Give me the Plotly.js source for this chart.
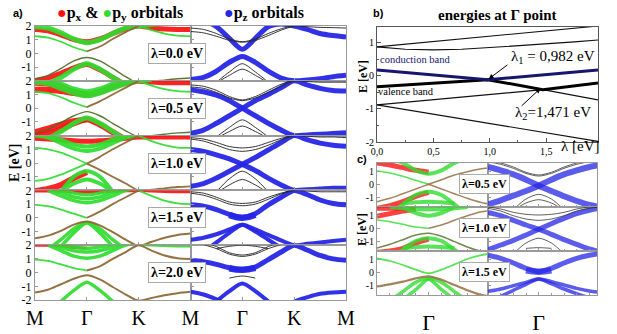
<!DOCTYPE html>
<html><head><meta charset="utf-8">
<script src="https://cdn.plot.ly/plotly-3.0.1.min.js"></script>
<style>html,body{margin:0;padding:0;background:#fff}#plot{width:617px;height:334px}</style>
</head><body><div id="plot"></div>
<script>
// ---------- k-path samples (M=0, Γ=1, K=2, M=3) ----------
const kA = [0,0.25,0.5,0.75,1,1.25,1.5,1.75,2,2.25,2.5,2.75,3];
const kTicks = [0,1,2,3];
const kLabelsL = ['M','Γ','K','M'];
const kLabelsR = ['','Γ','K','M'];
const lambdaLabels = ['λ=0.0 eV','λ=0.5 eV','λ=1.0 eV','λ=1.5 eV','λ=2.0 eV'];

// ---------- λ = 0.0 ----------
const a0_red  = [1.75,1.65,1.35,1.0,0.85,1.05,1.45,1.8,2.0,1.85,1.78,1.75,1.75];
const a0_grnT = [1.95,1.85,1.5,1.05,0.78,1.0,1.45,1.85,2.0,2.1,2.2,2.3,2.3];
const a0_grn  = [1.25,1.15,0.85,0.45,0.15,null,null,null,2.0,1.7,1.45,1.3,1.25];
const a0_brn  = [null,null,null,null,0.15,0.5,1.05,1.55,2.0,null,null,null,null];
const a0_low  = [-1.85,-1.6,-1.1,-0.55,-0.3,-0.55,-1.1,-1.7,-2.2,-2.05,-1.95,-1.85,-1.8];
const a0_grnH = [-2.4,-2.2,-1.75,-1.15,-0.75,-1.15,-1.75,-2.3,null,null,null,null,null];
const a0_redH = [-2.0,-1.8,-1.45,-1.05,-0.82,-1.2,-1.75,-2.3,null,null,null,null,null];
const a0_t1   = [1.85,1.75,1.45,1.05,0.85,1.05,1.45,1.8,2.0,1.95,1.9,1.88,1.85];
const a0_t2   = [1.6,1.5,1.25,0.95,0.82,0.95,1.3,1.7,2.0,2.2,null,null,null];
const a0_bU   = [2.6,2.4,1.95,1.1,0.3,1.1,1.95,2.15,2.0,1.75,1.45,1.3,1.2];
const a0_bL   = [-1.9,-1.75,-1.3,-0.65,-0.22,-0.65,-1.3,-1.8,-2.0,-1.95,-1.85,-1.7,-1.6];
const a0_tL1  = [null,null,-2.1,-1.35,-0.75,-1.35,-2.1,null,null,null,null,null,null];
const a0_tL2  = [null,null,-2.15,-1.6,-1.15,-1.6,-2.15,null,null,null,null,null,null];

// ---------- λ = 0.5 ----------
const a1_red1 = [1.85,1.8,1.55,1.2,1.0,1.2,1.55,1.85,2.0,1.95,1.9,1.9,1.9];
const a1_red2 = [1.35,1.35,1.25,1.1,1.0,null,null,null,null,null,null,null,null];
const a1_grT1 = [2.1,2.0,1.75,1.4,1.2,1.4,1.75,2.0,2.1,2.2,null,null,null];
const a1_grT2 = [1.9,1.8,1.45,1.1,0.9,1.1,1.45,1.8,2.0,2.1,null,null,null];
const a1_grn  = [1.2,1.1,0.8,0.4,0.08,null,null,null,2.0,1.65,1.4,1.25,1.2];
const a1_brn  = [null,null,null,null,0.08,0.5,1.0,1.5,2.0,null,null,null,null];
const a1_low  = [-1.8,-1.55,-1.05,-0.55,-0.25,-0.55,-1.1,-1.65,-2.1,-2.0,-1.9,-1.8,-1.75];
const a1_grnH = [-2.4,-2.2,-1.7,-1.1,-0.72,-1.1,-1.7,-2.3,null,null,null,null,null];
const a1_redH = [-2.0,-1.85,-1.55,-1.1,-0.8,-1.2,-1.75,-2.3,null,null,null,null,null];
const a1_redH2= [-1.75,-1.5,-1.2,-0.95,-0.8,null,null,null,null,null,null,null,null];
const a1_t1   = [1.7,1.6,1.3,0.85,0.6,0.85,1.3,1.75,2.0,1.95,1.9,1.9,1.9];
const a1_t2   = [1.55,1.45,1.15,0.75,0.55,0.75,1.15,1.6,2.0,2.2,null,null,null];
const a1_bX1  = [1.35,1.2,0.95,0.55,0.0,-0.55,-1.1,-1.6,-2.0,-1.95,-1.9,-1.85,-1.8];
const a1_bX2  = [-1.85,-1.6,-1.1,-0.55,0.0,0.55,1.0,1.5,2.0,1.7,1.45,1.3,1.25];
const a1_tL1  = [null,null,-2.1,-1.4,-0.85,-1.4,-2.1,null,null,null,null,null,null];
const a1_tL2  = [null,null,-2.2,-1.7,-1.3,-1.7,-2.2,null,null,null,null,null,null];

// ---------- λ = 1.0 ----------
const a2_red  = [1.8,1.75,1.7,1.62,1.58,1.62,1.7,1.8,1.9,1.9,1.9,1.9,1.9];
const a2_grT1 = [2.1,2.0,1.7,1.35,1.2,1.35,1.7,2.0,2.1,null,null,null,null];
const a2_grT2 = [2.0,1.85,1.45,1.05,0.88,1.05,1.45,1.85,2.0,null,null,null,null];
const a2_grn  = [1.1,1.0,0.75,0.38,-0.05,null,null,null,2.0,1.6,1.3,1.12,1.1];
const a2_brn  = [null,null,null,null,-0.05,0.45,1.0,1.5,2.0,null,null,null,null];
const a2_grnL = [-1.3,-1.15,-0.85,-0.45,-0.05,null,null,null,null,null,null,null,null];
const a2_brnL = [null,null,null,null,-0.05,-0.5,-1.0,-1.5,-2.0,-1.95,-1.85,-1.75,-1.7];
const a2_grH1 = [null,null,-2.1,-1.0,-0.6,-1.0,-2.1,null,null,null,null,null,null];
const a2_grH2 = [null,null,-2.1,-1.5,-1.2,-1.5,-2.1,null,null,null,null,null,null];
const a2_redH = [-2.05,-1.9,-1.6,-1.1,-0.65,null,null,null,null,null,null,null,null];
const a2_t1   = [1.85,1.75,1.5,1.2,1.1,1.2,1.5,1.8,2.0,1.95,1.9,1.9,1.85];
const a2_t2   = [1.75,1.6,1.3,0.98,0.85,0.98,1.3,1.7,2.0,2.2,null,null,null];
const a2_bX1  = [0.98,0.85,0.6,0.3,-0.1,-0.55,-1.1,-1.6,-2.0,-1.95,-1.9,-1.85,-1.85];
const a2_bX2  = [-1.7,-1.5,-1.1,-0.6,-0.1,0.4,0.95,1.5,2.0,1.7,1.45,1.3,1.22];
const a2_tL1  = [null,null,-2.1,-1.15,-0.6,-1.15,-2.1,null,null,null,null,null,null];
const a2_tL2  = [null,null,-2.2,-1.6,-1.2,-1.6,-2.2,null,null,null,null,null,null];

// ---------- λ = 1.5 ----------
const a3_red  = [1.95,1.95,1.93,1.9,1.88,1.9,1.93,1.97,2.0,1.95,1.92,1.9,1.9];
const a3_grT1 = [null,2.3,2.05,1.8,1.68,1.8,2.05,2.3,null,null,null,null,null];
const a3_grT2 = [null,2.15,1.85,1.52,1.39,1.52,1.85,2.15,null,null,null,null,null];
const a3_grT3 = [null,2.0,1.6,1.25,1.1,1.25,1.6,2.0,2.2,null,null,null,null];
const a3_grn  = [0.95,0.85,0.6,0.3,0.0,null,null,null,2.0,1.6,1.25,1.05,1.0];
const a3_brn  = [null,null,null,null,0.0,0.45,1.0,1.5,2.0,null,null,null,null];
const a3_low  = [-1.5,-1.3,-0.95,-0.5,-0.27,-0.55,-1.05,-1.6,-2.05,-1.75,-1.45,-1.25,-1.15];
const a3_gA   = [null,null,-2.1,-1.1,-0.37,-0.8,-1.6,-2.3,null,null,null,null,null];
const a3_gB   = [null,-2.3,-1.6,-0.8,-0.37,-1.1,-2.1,null,null,null,null,null,null];
const a3_t1   = [1.9,1.8,1.5,1.15,1.05,1.15,1.5,1.8,2.0,1.95,1.9,1.9,1.9];
const a3_t2   = [1.8,1.65,1.35,1.0,0.88,1.0,1.35,1.75,2.0,2.2,null,null,null];
const a3_bU   = [0.95,0.85,0.6,0.25,0.0,0.3,0.95,1.5,2.0,1.7,1.3,1.05,0.95];
const a3_bBlob= [null,null,null,0.2,0.0,0.22,null,null,null,null,null,null,null];
const a3_bA   = [-1.6,-1.45,-1.2,-0.85,-0.5,-1.0,-1.6,-2.2,null,null,null,null,null];
const a3_bB   = [null,-2.5,-1.8,-1.1,-0.5,-0.85,-1.25,-1.65,-2.0,-1.9,-1.8,-1.7,-1.6];

// ---------- λ = 2.0 ----------
const a4_red  = [2.0,2.0,1.95,1.85,1.78,null,null,null,null,null,null,null,null];
const a4_grT1 = [null,2.3,2.05,1.87,1.78,1.87,2.05,2.3,null,null,null,null,null];
const a4_grT2 = [null,2.15,1.85,1.6,1.5,1.6,1.85,2.15,null,null,null,null,null];
const a4_grT3 = [null,2.0,1.6,1.2,1.05,1.2,1.6,2.0,2.2,null,null,null,null];
const a4_grn  = [0.95,0.85,0.6,0.32,0.15,null,null,null,2.0,1.97,1.93,1.9,1.9];
const a4_brn  = [null,null,null,null,0.15,0.45,1.0,1.5,2.0,1.6,1.25,1.05,1.0];
const a4_low  = [-1.45,-1.25,-0.85,-0.45,-0.2,-0.5,-1.05,-1.6,-2.05,-1.85,-1.65,-1.5,-1.4];
const a4_grnH = [null,null,-2.1,-1.3,-0.7,-1.3,-2.1,null,null,null,null,null,null];
const a4_t1   = [null,2.2,1.9,1.45,1.28,1.45,1.9,2.2,null,null,null,null,null];
const a4_t2   = [null,2.05,1.75,1.35,1.18,1.35,1.75,2.05,null,null,null,null,null];
const a4_t3   = [null,null,1.75,1.92,2.0,1.92,1.75,null,null,null,null,null,null];
const a4_bU   = [0.9,0.8,0.6,0.35,0.2,0.4,0.95,1.5,2.0,1.65,1.25,1.0,0.9];
const a4_bBlob= [null,null,null,0.32,0.2,0.34,null,null,null,null,null,null,null];
const a4_tS   = [null,null,null,-0.4,-0.25,-0.4,null,null,null,null,null,null,null];
const a4_bL   = [null,null,-2.1,-1.35,-0.8,-1.35,-2.1,null,null,null,null,null,null];
const a4_bS   = [-1.4,-1.6,-1.95,-2.4,null,null,null,null,-2.1,-1.8,-1.55,-1.45,-1.4];

// ---------- panel b: energies at Γ vs λ ----------
const bUp1X = [0,1.96],                    bUp1Y = [0.87,1.5];
const bUp2X = [0,0.25,0.5,0.75,1,1.25,1.5,1.75,1.96], bUp2Y = [0.87,0.80,0.78,0.80,0.85,0.90,0.96,1.02,1.08];
const bCondX = [0,0.982,1.96],             bCondY = [0.17,-0.12,0.17];
const bValX = [0,0.982,1.471,1.96],        bValY = [-0.33,-0.12,-0.42,-0.22];
const bThinX = [0,1.471,1.96],             bThinY = [-0.88,-0.42,-0.73];
const bLowX = [0,1.96],                    bLowY = [-0.88,-1.98];
const bTicks = [0,0.5,1,1.5], bTickText = ['0,0','0,5','1,0','1,5'];

// ---------- panel c (zoom near Γ) ----------
const kC = [0,0.25,0.5,0.75,1,1.25,1.5,1.75,2,2.2];
const c1L_red  = [1.6,1.45,1.25,1.05,0.9,null,null,null,null,null];
const c1L_grnU = [2.0,1.9,1.6,1.05,0.8,1.05,1.6,1.9,2.0,2.0];
const c1L_grnA = [1.0,0.85,0.6,0.3,0.0,null,null,null,null,null];
const c1L_brnA = [null,null,null,null,0.0,-0.35,-0.7,-1.05,-1.35,-1.5];
const c1L_brnB = [-1.3,-1.05,-0.7,-0.35,0.0,0.35,0.7,0.95,1.15,1.25];
const c1L_grnH = [null,-2.3,-1.5,-0.8,-0.55,-0.8,-1.5,-2.3,null,null];
const c1L_grnF = [null,null,-1.45,-1.35,-1.3,-1.35,-1.45,null,null,null];
const c1L_redH = [-1.8,-1.6,-1.3,-0.9,-0.6,null,null,null,null,null];
const c1R_t1 = [1.8,1.6,1.3,0.9,0.7,0.9,1.3,1.6,1.8,1.9];
const c1R_t2 = [1.7,1.5,1.2,0.82,0.62,0.82,1.2,1.5,1.7,1.8];
const c1R_bA = [1.3,1.05,0.75,0.35,-0.1,-0.5,-0.9,-1.25,-1.55,-1.7];
const c1R_bB = [-1.5,-1.2,-0.85,-0.5,-0.1,0.35,0.75,1.05,1.3,1.45];
const c1R_tL1 = [null,null,-1.9,-1.1,-0.75,-1.1,-1.9,null,null,null];
const c1R_tL2 = [null,null,-1.95,-1.4,-1.15,-1.4,-1.95,null,null,null];

const c2L_red1 = [0.9,1.1,1.3,1.45,null,null,null,null,null,null];
const c2L_red2 = [1.5,1.5,1.52,1.55,null,null,null,null,null,null];
const c2L_grnA = [null,1.6,1.5,1.45,1.42,1.45,1.5,1.6,null,null];
const c2L_grnU = [null,null,1.6,1.15,0.95,1.15,1.6,null,null,null];
const c2L_thU_g = [0.62,0.5,0.3,0.1,0.0,null,null,null,null,null];
const c2L_thU_b = [null,null,null,null,0.0,0.25,0.6,0.95,1.23,1.35];
const c2L_thL = [-1.48,-1.2,-0.85,-0.5,-0.37,-0.6,-1.0,-1.4,-1.7,-1.8];
const c2L_grnH = [null,-2.3,-1.6,-0.95,-0.74,-0.95,-1.6,-2.3,null,null];
const c2L_grnF = [null,null,-1.5,-1.4,-1.36,-1.4,-1.5,null,null,null];
const c2L_redH = [-1.8,-1.7,-1.5,-1.1,-0.8,null,null,null,null,null];
const c2R_t1 = [1.6,1.45,1.2,1.05,1.0,1.05,1.2,1.45,1.6,1.7];
const c2R_t2 = [1.5,1.3,0.95,0.7,0.6,0.7,0.95,1.3,1.5,1.6];
const c2R_bA = [1.2,0.95,0.6,0.25,-0.07,-0.45,-0.85,-1.2,-1.55,-1.75];
const c2R_bB = [-1.6,-1.25,-0.9,-0.5,-0.07,0.35,0.75,1.1,1.36,1.5];
const c2R_tL = [null,null,-1.9,-1.1,-0.74,-1.1,-1.9,null,null,null];
const c2R_tF = [null,null,null,-1.5,-1.45,-1.5,null,null,null,null];

const c3L_thU = [1.04,0.85,0.55,0.2,-0.07,0.2,0.6,1.0,1.28,1.4];
const c3L_thL = [-1.06,-0.9,-0.7,-0.45,-0.3,-0.55,-0.95,-1.35,-1.68,-1.8];
const c3L_gA = [null,null,-2.05,-1.3,-0.5,-0.75,-1.45,-2.1,null,null];
const c3L_gB = [null,-2.1,-1.45,-0.75,-0.5,-1.3,-2.05,null,null,null];
const c3R_bU = [1.28,1.05,0.7,0.3,0.05,0.3,0.7,1.05,1.28,1.4];
const c3R_blob = [null,null,null,0.15,0.05,0.15,null,null,null,null];
const c3R_bA = [-1.43,-1.25,-1.0,-0.75,-0.5,-0.85,-1.25,-1.6,-1.9,-2.0];
const c3R_bB = [-2.2,-1.8,-1.35,-0.9,-0.5,-0.7,-0.95,-1.2,-1.4,-1.5];
const cLabels = ['λ=0.5 eV','λ=1.0 eV','λ=1.5 eV'];

// ---------- styling ----------
const RED='#ff1010', GRN='#2fdc2f', BRN='#8c6430', BLUE='#2626e6', THIN='#2a2a2a', OLV='#4f6a24', NAVY='#16166e';
const SERIF='Liberation Serif, Times New Roman, serif';
const W=617, H=334;
const px=x=>x/W, py=y=>1-y/H;

const traces=[];
const layout={width:W,height:H,margin:{l:0,r:0,t:0,b:0},paper_bgcolor:'#fff',plot_bgcolor:'rgba(0,0,0,0)',showlegend:false,annotations:[],font:{family:SERIF,color:'#000'}};
let axN=0;
function addAxes(x0,x1,y0,y1,xo,yo){
  axN++; const s=axN===1?'':String(axN);
  const base={showgrid:false,zeroline:false,showline:true,mirror:true,linecolor:'#9a9a9a',linewidth:1,ticks:'inside',ticklen:3,tickcolor:'#9a9a9a',fixedrange:true,tickfont:{family:SERIF,size:12,color:'#000'}};
  layout['xaxis'+s]=Object.assign({},base,{domain:[px(x0),px(x1)],anchor:'y'+s},xo);
  layout['yaxis'+s]=Object.assign({},base,{domain:[py(y1),py(y0)],anchor:'x'+s},yo);
  return s;
}
function band(s,k,v,color,w,op,sm){
  traces.push({type:'scatter',mode:'lines',x:k,y:v,xaxis:'x'+s,yaxis:'y'+s,
    line:{color:color,width:w,shape:'spline',smoothing:sm||0.8},opacity:op||1,hoverinfo:'skip',connectgaps:false});
}
function lin(s,k,v,color,w){
  traces.push({type:'scatter',mode:'lines',x:k,y:v,xaxis:'x'+s,yaxis:'y'+s,line:{color:color,width:w},hoverinfo:'skip'});
}
const A=layout.annotations;
function note(o){A.push(Object.assign({showarrow:false,xanchor:'center',yanchor:'middle'},o));}

// ---------- panel a ----------
const rowsL=[
 [[a0_red,RED,5],[a0_redH,RED,5],[a0_grnT,GRN,5],[a0_grnH,GRN,5],[a0_grn,GRN,1.8],[a0_brn,BRN,1.8],[a0_low,OLV,1.4]],
 [[a1_red1,RED,6],[a1_red2,RED,6],[a1_redH,RED,6],[a1_redH2,RED,6],[a1_grT1,GRN,5],[a1_grT2,GRN,5],[a1_grnH,GRN,5],[a1_grn,GRN,1.8],[a1_brn,BRN,1.8],[a1_low,OLV,1.4]],
 [[a2_red,RED,5],[a2_redH,RED,6],[a2_grT1,GRN,4],[a2_grT2,GRN,4],[a2_grH1,GRN,4],[a2_grH2,GRN,4],[a2_grn,GRN,1.8],[a2_brn,BRN,1.8],[a2_grnL,GRN,1.8],[a2_brnL,BRN,1.8]],
 [[a3_red,RED,3],[a3_grT1,GRN,3.5],[a3_grT2,GRN,3.5],[a3_grT3,GRN,3.5],[a3_gA,GRN,3.5],[a3_gB,GRN,3.5],[a3_grn,GRN,1.8],[a3_brn,BRN,1.8],[a3_low,BRN,2]],
 [[a4_red,RED,3],[a4_grT1,GRN,3.5],[a4_grT2,GRN,3.5],[a4_grT3,GRN,3.5],[a4_grnH,GRN,3.5],[a4_grn,GRN,1.8],[a4_brn,BRN,2],[a4_low,BRN,2]]
];
const rowsR=[
 [[a0_bU,BLUE,5],[a0_bL,BLUE,5],[a0_t1,THIN,1],[a0_t2,THIN,1],[a0_tL1,THIN,1],[a0_tL2,THIN,1]],
 [[a1_bX1,BLUE,5],[a1_bX2,BLUE,5],[a1_t1,THIN,1],[a1_t2,THIN,1],[a1_tL1,THIN,1],[a1_tL2,THIN,1]],
 [[a2_bX1,BLUE,5],[a2_bX2,BLUE,5],[a2_t1,THIN,1],[a2_t2,THIN,1],[a2_tL1,THIN,1],[a2_tL2,THIN,1]],
 [[a3_bU,BLUE,5],[a3_bBlob,BLUE,6.5,1.3],[a3_bA,BLUE,4],[a3_bB,BLUE,4],[a3_t1,THIN,1],[a3_t2,THIN,1]],
 [[a4_bU,BLUE,5],[a4_bBlob,BLUE,6.5,1.3],[a4_bL,BLUE,4],[a4_bS,BLUE,4],[a4_t1,THIN,1],[a4_t2,THIN,1],[a4_t3,THIN,1],[a4_tS,THIN,1]]
];
const aTop=26, aH=54.8, xL0=35, xMid=190.5, xR1=346;
for(let i=0;i<5;i++){
  const t=aTop+aH*i, b=t+aH, last=i===4;
  const yv= last?[-2,-1,0,1,2]:[-1,0,1,2];
  const yo={range:[-2,2],tickvals:yv,ticktext:yv.map(String)};
  const xoL={range:[0,3],tickvals:kTicks,ticktext:kLabelsL,showticklabels:last,tickfont:{family:SERIF,size:20,color:'#000'},ticklabelstandoff:0};
  const sL=addAxes(xL0,xMid,t,b,xoL,yo);
  rowsL[i].forEach(d=>band(sL,kA,d[0],d[1],d[2],0.92));
  const xoR=Object.assign({},xoL,{ticktext:kLabelsR});
  const sR=addAxes(xMid,xR1,t,b,xoR,Object.assign({},yo,{showticklabels:false}));
  rowsR[i].forEach(d=>band(sR,kA,d[0],d[1],d[2],0.95,d[3]));
  note({xref:'paper',yref:'paper',x:px(176.5),y:py(t+aH/2),text:'<b>'+lambdaLabels[i]+'</b>',
    font:{family:SERIF,size:14,color:'#000'},bgcolor:'#fff',bordercolor:'#aaa',borderwidth:1,borderpad:2});
}

// ---------- panel b ----------
const sb=addAxes(377,598,27,142,
  {range:[0,1.96],tickvals:bTicks,ticktext:bTickText,linecolor:'#555',tickcolor:'#555',ticklen:4,tickfont:{family:SERIF,size:10,color:'#000'},minor:{ticks:'inside',ticklen:2,dtick:0.25,tickcolor:'#555'}},
  {range:[-2,1.47],tickvals:[-2,-1,0,1],ticktext:['-2','-1','0','1'],linecolor:'#555',tickcolor:'#555',ticklen:4,tickfont:{family:SERIF,size:10,color:'#000'},minor:{ticks:'inside',ticklen:2,dtick:0.5,tickcolor:'#555'}});
lin(sb,bUp1X,bUp1Y,'#111',1.1);
lin(sb,bUp2X,bUp2Y,'#111',1.1);
lin(sb,bLowX,bLowY,'#111',1.1);
lin(sb,bThinX,bThinY,'#111',1.1);
lin(sb,bValX,bValY,'#000',3);
lin(sb,bCondX,bCondY,NAVY,3);
const ax='x'+sb, ay='y'+sb;
note({xref:ax,yref:ay,x:0.34,y:0.48,text:'conduction band',font:{family:SERIF,size:10.5,color:NAVY}});
note({xref:ax,yref:ay,x:0.26,y:-0.48,text:'valence band',font:{family:SERIF,size:10.5,color:'#000'}});
note({xref:ax,yref:ay,x:1.56,y:0.55,text:'λ<sub>1</sub> = 0,982 eV',font:{family:SERIF,size:15,color:'#000'}});
note({xref:ax,yref:ay,x:1.56,y:-1.12,text:'λ<sub>2</sub>=1,471 eV',font:{family:SERIF,size:15,color:'#000'}});
A.push({xref:ax,yref:ay,axref:ax,ayref:ay,x:0.99,y:-0.1,ax:1.17,ay:0.36,text:'',showarrow:true,arrowhead:2,arrowsize:1,arrowwidth:1,arrowcolor:'#000'});
A.push({xref:ax,yref:ay,axref:ax,ayref:ay,x:1.45,y:-0.38,ax:1.27,ay:-0.95,text:'',showarrow:true,arrowhead:2,arrowsize:1,arrowwidth:1,arrowcolor:'#000'});
note({xref:'paper',yref:'paper',x:px(580),y:py(146),text:'λ [eV]',font:{family:SERIF,size:15,color:'#000'}});
note({xref:'paper',yref:'paper',x:px(497),y:py(15),text:'<b>energies at Γ point</b>',font:{family:SERIF,size:15,color:'#000'}});
note({xref:'paper',yref:'paper',x:px(378),y:py(13),text:'<b>b)</b>',font:{family:'Liberation Sans, Arial',size:11,color:'#000'}});
note({xref:'paper',yref:'paper',x:px(363),y:py(77),text:'<b>E [eV]</b>',textangle:-90,font:{family:SERIF,size:12,color:'#000'}});

// ---------- panel c ----------
const cRowsL=[
 [[c1L_red,RED,5],[c1L_redH,RED,5],[c1L_grnU,GRN,4],[c1L_grnH,GRN,4],[c1L_grnF,GRN,4],[c1L_grnA,GRN,1.5],[c1L_brnA,BRN,1.5],[c1L_brnB,BRN,1.5]],
 [[c2L_red1,RED,5],[c2L_red2,RED,5],[c2L_redH,RED,5],[c2L_grnA,GRN,4],[c2L_grnU,GRN,4],[c2L_grnH,GRN,4],[c2L_grnF,GRN,4],[c2L_thU_g,GRN,1.5],[c2L_thU_b,BRN,1.5],[c2L_thL,OLV,1.5]],
 [[c3L_gA,GRN,3.5],[c3L_gB,GRN,3.5],[c3L_thU,GRN,1.8],[c3L_thL,BRN,2.2]]
];
const cRowsR=[
 [[c1R_bA,BLUE,6],[c1R_bB,BLUE,6],[c1R_t1,THIN,1],[c1R_t2,THIN,1],[c1R_tL1,THIN,1],[c1R_tL2,THIN,1]],
 [[c2R_bA,BLUE,5],[c2R_bB,BLUE,5],[c2R_t1,THIN,1],[c2R_t2,THIN,1],[c2R_tL,THIN,1],[c2R_tF,THIN,1]],
 [[c3R_bU,BLUE,5],[c3R_blob,BLUE,6.5,1.3],[c3R_bA,BLUE,3.5],[c3R_bB,BLUE,3.5]]
];
const cTop=163, cH=44;
for(let i=0;i<3;i++){
  const t=cTop+cH*i, b=t+cH, last=i===2;
  const yo={range:[-1.7,1.6],tickvals:[-1,0,1],ticktext:['-1','0','1'],tickfont:{family:SERIF,size:10,color:'#000'}};
  const xo={range:[0,2.15],tickvals:[1],ticktext:['Γ'],showticklabels:last,tickfont:{family:SERIF,size:22,color:'#000'},ticklabelstandoff:8,minor:{ticks:'inside',ticklen:2,dtick:0.25,tickcolor:'#9a9a9a'}};
  const sL=addAxes(377,488,t,b,xo,yo);
  cRowsL[i].forEach(d=>band(sL,kC,d[0],d[1],d[2],0.8));
  const sR=addAxes(488,597,t,b,xo,Object.assign({},yo,{showticklabels:false}));
  cRowsR[i].forEach(d=>band(sR,kC,d[0],d[1],d[2],0.75,d[3]));
  note({xref:'paper',yref:'paper',x:px(484),y:py(t+21),text:'<b>'+cLabels[i]+'</b>',
    font:{family:SERIF,size:12,color:'#000'},bgcolor:'#fff',bordercolor:'#aaa',borderwidth:1,borderpad:2});
}
note({xref:'paper',yref:'paper',x:px(362),y:py(159),text:'<b>c)</b>',font:{family:'Liberation Sans, Arial',size:11,color:'#000'}});
note({xref:'paper',yref:'paper',x:px(362),y:py(230),text:'<b>E [eV]</b>',textangle:-90,font:{family:SERIF,size:12,color:'#000'}});

// ---------- panel a titles ----------
note({xref:'paper',yref:'paper',x:px(18),y:py(13),text:'<b>a)</b>',font:{family:'Liberation Sans, Arial',size:11,color:'#000'}});
note({xref:'paper',yref:'paper',x:px(14),y:py(163),text:'<b>E [eV]</b>',textangle:-90,font:{family:SERIF,size:14,color:'#000'}});
note({xref:'paper',yref:'paper',x:px(120),y:py(13),text:"<b><span style='color:#ff1010'>●</span>p<sub>x</sub> &amp; <span style='color:#2fdc2f'>●</span>p<sub>y</sub> orbitals</b>",font:{family:SERIF,size:16,color:'#000'}});
note({xref:'paper',yref:'paper',x:px(264),y:py(13),text:"<b><span style='color:#2626e6'>●</span>p<sub>z</sub> orbitals</b>",font:{family:SERIF,size:16,color:'#000'}});

Plotly.newPlot('plot',traces,layout,{staticPlot:true,displayModeBar:false});
</script></body></html>
